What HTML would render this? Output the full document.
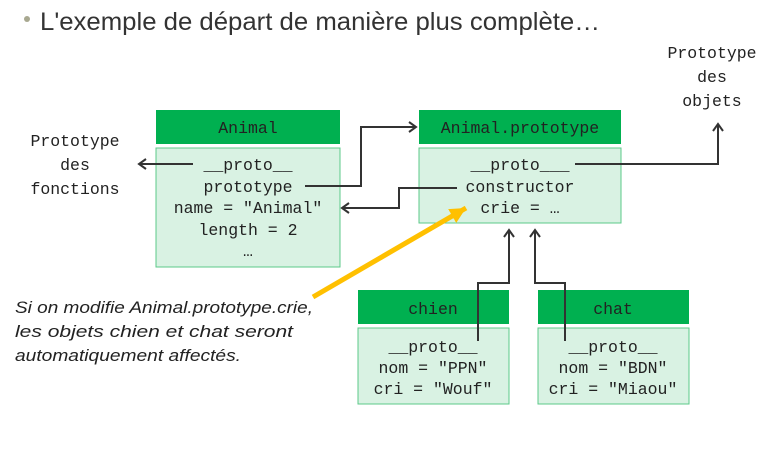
<!DOCTYPE html>
<html><head><meta charset="utf-8"><style>
html,body{margin:0;padding:0;background:#fff;}
svg{display:block;}
.m{font-family:"Liberation Mono",monospace;font-size:16.5px;fill:#222;text-anchor:middle;}
.i{font-family:"Liberation Sans",sans-serif;font-size:16.5px;font-style:italic;fill:#222;}
</style></head><body>
<svg width="781" height="449" viewBox="0 0 781 449">
<defs>
<marker id="a" markerWidth="12" markerHeight="12" refX="9" refY="6" orient="auto" markerUnits="userSpaceOnUse">
<path d="M2,1 L9,6 L2,11" fill="none" stroke="#333" stroke-width="2"/></marker>
<marker id="y" markerWidth="20" markerHeight="20" refX="16" refY="10" orient="auto" markerUnits="userSpaceOnUse">
<path d="M0,2 L16,10 L0,18 Z" fill="#ffc000"/></marker>
</defs>
<circle cx="27" cy="19" r="3" fill="#a8a890"/>
<text x="40" y="30" font-family="Liberation Sans,sans-serif" font-size="25" fill="#333" textLength="560" lengthAdjust="spacingAndGlyphs">L'exemple de départ de manière plus complète…</text>

<rect x="156" y="110" width="184" height="34" fill="#00b050"/>
<rect x="156" y="148" width="184" height="119" fill="#d9f2e3" stroke="#5cc98a" stroke-width="1"/>
<rect x="419" y="110" width="202" height="34" fill="#00b050"/>
<rect x="419" y="148" width="202" height="75" fill="#d9f2e3" stroke="#5cc98a" stroke-width="1"/>
<rect x="358" y="290" width="151" height="34" fill="#00b050"/>
<rect x="358" y="328" width="151" height="76" fill="#d9f2e3" stroke="#5cc98a" stroke-width="1"/>
<rect x="538" y="290" width="151" height="34" fill="#00b050"/>
<rect x="538" y="328" width="151" height="76" fill="#d9f2e3" stroke="#5cc98a" stroke-width="1"/>

<text class="m" x="248" y="133">Animal</text>
<text class="m" x="248" y="170">__proto__</text>
<text class="m" x="248" y="192">prototype</text>
<text class="m" x="248" y="213">name = "Animal"</text>
<text class="m" x="248" y="235">length = 2</text>
<text class="m" x="248" y="256">…</text>

<text class="m" x="520" y="133">Animal.prototype</text>
<text class="m" x="520" y="170">__proto___</text>
<text class="m" x="520" y="192">constructor</text>
<text class="m" x="520" y="213">crie = …</text>

<text class="m" x="433" y="314">chien</text>
<text class="m" x="433" y="352">__proto__</text>
<text class="m" x="433" y="373">nom = "PPN"</text>
<text class="m" x="433" y="394">cri = "Wouf"</text>

<text class="m" x="613" y="314">chat</text>
<text class="m" x="613" y="352">__proto__</text>
<text class="m" x="613" y="373">nom = "BDN"</text>
<text class="m" x="613" y="394">cri = "Miaou"</text>

<text class="m" x="75" y="146">Prototype</text>
<text class="m" x="75" y="170">des</text>
<text class="m" x="75" y="194">fonctions</text>
<text class="m" x="712" y="58">Prototype</text>
<text class="m" x="712" y="82">des</text>
<text class="m" x="712" y="106">objets</text>

<g fill="none" stroke="#333" stroke-width="2">
<path d="M193,164 H139" marker-end="url(#a)"/>
<path d="M305,186 H361 V127 H416" marker-end="url(#a)"/>
<path d="M457,188 H399 V208 H342" marker-end="url(#a)"/>
<path d="M575,164 H718 V124" marker-end="url(#a)"/>
<path d="M478,341 V283 H509 V230" marker-end="url(#a)"/>
<path d="M565,341 V283 H535 V230" marker-end="url(#a)"/>
</g>
<path d="M313,297 L466,208" stroke="#ffc000" stroke-width="5" fill="none" marker-end="url(#y)"/>

<text class="i" x="15" y="313" textLength="298" lengthAdjust="spacingAndGlyphs">Si on modifie Animal.prototype.crie,</text>
<text class="i" x="15" y="337" textLength="278" lengthAdjust="spacingAndGlyphs">les objets chien et chat seront</text>
<text class="i" x="15" y="361" textLength="226" lengthAdjust="spacingAndGlyphs">automatiquement affectés.</text>
</svg>
</body></html>
